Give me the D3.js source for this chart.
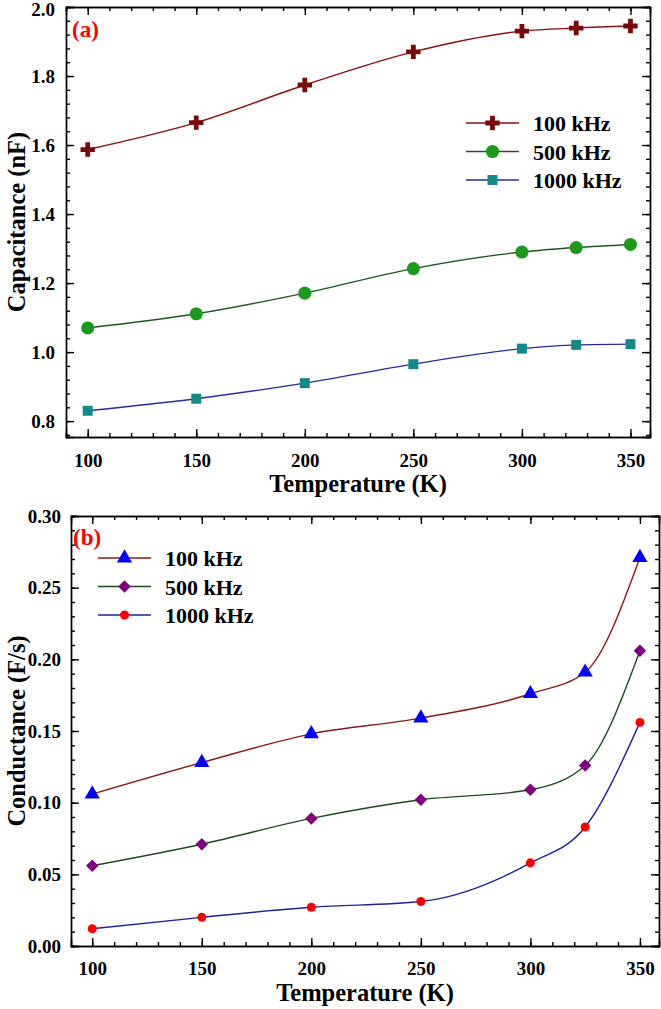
<!DOCTYPE html>
<html>
<head>
<meta charset="utf-8">
<script src="https://cdn.jsdelivr.net/npm/d3@7"></script>
<style>
  body { margin: 0; background: #fff; }
  svg text { font-family: "Liberation Serif", "Times New Roman", Times, serif !important; font-weight: bold; fill: #000; }
  .axis path, .axis line { stroke: #000; stroke-width: 1.4; }
  .axis text { font-size: 19px; }
  .title { font-size: 24.5px; }
  .leg { font-size: 22px; }
</style>
</head>
<body>
<svg id="chart" width="661" height="1009"></svg>
<script>
var temps = [100, 150, 200, 250, 300, 325, 350];
var freqs = ['100 kHz', '500 kHz', '1000 kHz'];

// panel (a) capacitance, nF
var cap100 = [1.587, 1.665, 1.774, 1.870, 1.930, 1.939, 1.945];
var cap500 = [1.070, 1.111, 1.171, 1.242, 1.290, 1.303, 1.312];
var cap1000 = [0.830, 0.865, 0.910, 0.965, 1.010, 1.021, 1.023];

// panel (b) conductance, F/s
var cond100 = [0.106, 0.128, 0.148, 0.159, 0.176, 0.191, 0.271];
var cond500 = [0.056, 0.071, 0.089, 0.102, 0.109, 0.126, 0.206];
var cond1000 = [0.012, 0.020, 0.027, 0.031, 0.058, 0.083, 0.156];

var xTicks = [100, 150, 200, 250, 300, 350];
var capTicks = [0.8, 1.0, 1.2, 1.4, 1.6, 1.8, 2.0];
var condTicks = [0.00, 0.05, 0.10, 0.15, 0.20, 0.25, 0.30];

var svg = d3.select("#chart");

function panel(opt) {
  var x = d3.scaleLinear().domain(opt.xDom).range([opt.left, opt.right]),
    y = d3.scaleLinear().domain(opt.yDom).range([opt.bottom, opt.top]);
  var g = svg.append("g");

  // minor ticks
  var xMinor = d3.range(90, 360, 10).filter(function (v) { return v >= opt.xDom[0] && v <= opt.xDom[1]; });
  var yMinor = d3.range(0, 61).map(function (i) { return opt.yMinorStart + i * opt.yMinorStep; })
    .filter(function (v) { return v >= opt.yDom[0] - 1e-9 && v <= opt.yDom[1] + 1e-9; });

  g.append("g").attr("class", "axis").attr("transform", "translate(0," + opt.bottom + ")")
    .call(d3.axisBottom(x).tickValues(xMinor).tickSize(-4).tickFormat(""));
  g.append("g").attr("class", "axis").attr("transform", "translate(0," + opt.top + ")")
    .call(d3.axisTop(x).tickValues(xMinor).tickSize(-4).tickFormat(""));
  g.append("g").attr("class", "axis").attr("transform", "translate(" + opt.left + ",0)")
    .call(d3.axisLeft(y).tickValues(yMinor).tickSize(-4).tickFormat(""));
  g.append("g").attr("class", "axis").attr("transform", "translate(" + opt.right + ",0)")
    .call(d3.axisRight(y).tickValues(yMinor).tickSize(-4).tickFormat(""));

  // major ticks
  g.append("g").attr("class", "axis").attr("transform", "translate(0," + opt.bottom + ")")
    .call(d3.axisBottom(x).tickValues(xTicks).tickSize(-8).tickPadding(opt.xPad).tickFormat(d3.format("d")));
  g.append("g").attr("class", "axis").attr("transform", "translate(0," + opt.top + ")")
    .call(d3.axisTop(x).tickValues(xTicks).tickSize(-8).tickFormat(""));
  var yAx = g.append("g").attr("class", "axis").attr("transform", "translate(" + opt.left + ",0)")
    .call(d3.axisLeft(y).tickValues(opt.yTicks).tickSize(-8).tickPadding(opt.yPad).tickFormat(d3.format(opt.yFmt)));
  g.append("g").attr("class", "axis").attr("transform", "translate(" + opt.right + ",0)")
    .call(d3.axisRight(y).tickValues(opt.yTicks).tickSize(-8).tickFormat(""));

  // keep the topmost label inside the page
  yAx.selectAll(".tick text").filter(function (d) { return y(d) < 12; })
    .attr("y", 2);

  g.selectAll(".axis .domain").attr("stroke-width", 1.6);

  // curves + markers
  var line = d3.line()
    .x(function (d, i) { return x(temps[i]); })
    .y(function (d) { return y(d); })
    .curve(d3.curveMonotoneX);

  opt.series.forEach(function (s) {
    g.append("path").datum(s.values)
      .attr("fill", "none").attr("stroke", s.line).attr("stroke-width", 1.4)
      .attr("d", line);
    g.selectAll(null).data(s.values).enter().append("path")
      .attr("transform", function (d, i) { return "translate(" + x(temps[i]) + "," + y(d) + ") rotate(" + (s.rot || 0) + ")"; })
      .attr("d", d3.symbol().type(s.sym).size(s.size))
      .attr("fill", s.color);
  });

  // legend
  opt.series.forEach(function (s, i) {
    var ly = opt.legY + i * opt.legGap;
    g.append("line").attr("x1", opt.legX).attr("x2", opt.legX + 53)
      .attr("y1", ly).attr("y2", ly).attr("stroke", s.line).attr("stroke-width", 1.4);
    g.append("path").attr("transform", "translate(" + (opt.legX + 26.5) + "," + ly + ") rotate(" + (s.rot || 0) + ")")
      .attr("d", d3.symbol().type(s.sym).size(s.size)).attr("fill", s.color);
    g.append("text").attr("class", "leg").attr("x", opt.legX + 67).attr("y", ly + 8)
      .text(freqs[i]);
  });

  // panel tag
  g.append("text").attr("x", opt.tagX).attr("y", opt.tagY)
    .style("fill", "#ff0000").attr("font-size", 23)
    .text(opt.tag);

  // axis titles
  g.append("text").attr("class", "title").attr("text-anchor", "middle")
    .attr("x", (opt.left + opt.right) / 2).attr("y", opt.bottom + 55)
    .text("Temperature (K)");
  g.append("text").attr("class", "title").attr("text-anchor", "middle")
    .attr("transform", "translate(25," + ((opt.top + opt.bottom) / 2) + ") rotate(-90)")
    .text(opt.yTitle);
}

panel({
  left: 66, right: 650, top: 7, bottom: 437,
  xDom: [90, 359], yDom: [0.754, 2.0], xPad: 17, yPad: 11,
  yTicks: capTicks, yFmt: ".1f", yMinorStart: 0.76, yMinorStep: 0.04,
  yTitle: "Capacitance (nF)", tag: "(a)", tagX: 72, tagY: 37,
  legX: 466, legY: 123, legGap: 28.5,
  series: [
    { values: cap100, line: "#8b1010", color: "#7a0a0a", sym: d3.symbolCross, size: 115 },
    { values: cap500, line: "#1e5a1e", color: "#1c9a1c", sym: d3.symbolCircle, size: 135 },
    { values: cap1000, line: "#2a2aa0", color: "#138a8a", sym: d3.symbolSquare, size: 100 }
  ]
});

panel({
  left: 71, right: 659, top: 516, bottom: 946,
  xDom: [90.3, 358.7], yDom: [0, 0.30], xPad: 16, yPad: 10,
  yTicks: condTicks, yFmt: ".2f", yMinorStart: 0, yMinorStep: 0.01,
  yTitle: "Conductance (F/s)", tag: "(b)", tagX: 73, tagY: 545,
  legX: 98, legY: 558, legGap: 28.5,
  series: [
    { values: cond100, line: "#8b1a1a", color: "#0000ff", sym: d3.symbolTriangle, size: 100 },
    { values: cond500, line: "#1e4a1e", color: "#800080", sym: d3.symbolSquare, size: 78, rot: 45 },
    { values: cond1000, line: "#22229a", color: "#ff0000", sym: d3.symbolCircle, size: 64 }
  ]
});
</script>
</body>
</html>
